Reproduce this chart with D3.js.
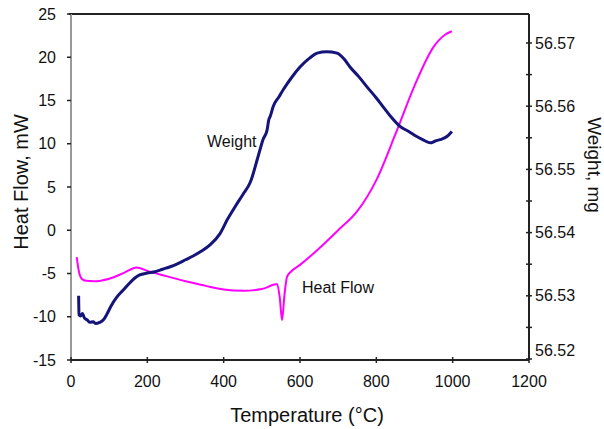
<!DOCTYPE html>
<html>
<head>
<meta charset="utf-8">
<script src="https://cdn.jsdelivr.net/npm/d3@7"></script>
<style>
  body { margin: 0; background: #fff; }
  text { font-family: "Liberation Sans", Arial, sans-serif; fill: #111; }
</style>
</head>
<body>
<div class="main-container"></div>
<script>
// temperature ticks and axis labels
var tempTicks = [0, 200, 400, 600, 800, 1000, 1200];
var heatTicks = [-15, -10, -5, 0, 5, 10, 15, 20, 25];
var weightTicks = [56.52, 56.53, 56.54, 56.55, 56.56, 56.57];
var weightMinor = [56.525, 56.535, 56.545, 56.555, 56.565];

// heat flow (mW)
var heatT = [15, 20, 28, 40, 60, 100, 140, 172, 200, 250, 300, 350, 400, 450, 500, 530, 540, 547, 553, 559, 566, 576, 600, 650, 700, 750, 800, 850, 900, 950, 980, 998];
var heatV = [-3.1, -4.6, -5.6, -5.85, -5.9, -5.6, -4.9, -4.3, -4.7, -5.3, -5.9, -6.4, -6.85, -7.0, -6.8, -6.3, -6.2, -7.8, -10.4, -7.6, -5.4, -4.8, -4.0, -2.1, 0.0, 2.2, 5.8, 11.1, 16.7, 21.2, 22.6, 23.0];

// weight (mg)
var weightT = [20, 21, 25, 30, 35, 42, 50, 58, 65, 75, 85, 95, 105, 120, 135, 150, 165, 180, 200, 220, 240, 260, 280, 300, 320, 340, 365, 390, 410, 430, 450, 470, 490, 503, 514, 518, 522, 530, 545, 556, 580, 600, 625, 645, 670, 697, 715, 731, 755, 775, 800, 818, 840, 862, 885, 906, 925, 941, 955, 967, 985, 998];
var weightV = [56.5300, 56.5270, 56.5268, 56.5272, 56.5265, 56.5262, 56.5258, 56.5259, 56.5256, 56.5258, 56.5262, 56.5272, 56.5284, 56.5298, 56.5308, 56.5318, 56.5327, 56.5333, 56.5336, 56.5338, 56.5342, 56.5346, 56.5351, 56.5357, 56.5363, 56.5370, 56.5381, 56.5398, 56.5421, 56.5441, 56.5460, 56.5480, 56.5520, 56.5547, 56.5563, 56.5578, 56.5584, 56.5600, 56.5615, 56.5626, 56.5647, 56.5662, 56.5676, 56.5684, 56.5686, 56.5684, 56.5675, 56.5662, 56.5646, 56.5631, 56.5613, 56.5599, 56.5582, 56.5568, 56.5560, 56.5552, 56.5546, 56.5542, 56.5545, 56.5547, 56.5552, 56.5560];

var plotLeft = 71, plotRight = 529, plotTop = 14, plotBottom = 360;

var svg = d3.select(".main-container")
    .append("svg")
    .attr("width", 604)
    .attr("height", 429);

var x = d3.scaleLinear().domain([0, 1200]).range([plotLeft, plotRight]);
var yHeat = d3.scaleLinear().domain([-15, 25]).range([plotBottom, plotTop]);
var yWeight = d3.scaleLinear().domain([56.52, 56.57]).range([359, 43]);

// frame: top line and left axis line
svg.append("line").attr("x1", plotLeft - 2).attr("x2", plotRight).attr("y1", plotTop).attr("y2", plotTop)
    .attr("stroke", "#222").attr("stroke-width", 2);
svg.append("line").attr("x1", plotLeft).attr("x2", plotLeft).attr("y1", plotTop).attr("y2", plotBottom)
    .attr("stroke", "#999").attr("stroke-width", 2);

// left axis ticks + labels
svg.selectAll(".lt").data(heatTicks).enter().append("line")
    .attr("x1", plotLeft - 4).attr("x2", plotLeft)
    .attr("y1", function (d) { return yHeat(d); }).attr("y2", function (d) { return yHeat(d); })
    .attr("stroke", "#222").attr("stroke-width", 1.5);
svg.selectAll(".ll").data(heatTicks).enter().append("text")
    .attr("x", 56).attr("y", function (d) { return yHeat(d); })
    .attr("dy", "0.35em").attr("text-anchor", "end")
    .style("font-size", "16px")
    .text(function (d) { return d; });

// bottom axis
svg.append("line").attr("x1", plotLeft).attr("x2", plotRight).attr("y1", plotBottom).attr("y2", plotBottom)
    .attr("stroke", "#222").attr("stroke-width", 2);
svg.selectAll(".bt").data(tempTicks).enter().append("line")
    .attr("x1", function (d) { return x(d); }).attr("x2", function (d) { return x(d); })
    .attr("y1", plotBottom - 3).attr("y2", plotBottom + 3)
    .attr("stroke", "#222").attr("stroke-width", 1.5);
svg.selectAll(".bl").data(tempTicks).enter().append("text")
    .attr("x", function (d) { return x(d); }).attr("y", 387)
    .attr("text-anchor", "middle")
    .style("font-size", "16px")
    .text(function (d) { return d; });

// right axis
svg.append("line").attr("x1", plotRight).attr("x2", plotRight).attr("y1", plotTop).attr("y2", plotBottom)
    .attr("stroke", "#222").attr("stroke-width", 2);
svg.selectAll(".rt").data(weightTicks.concat(weightMinor)).enter().append("line")
    .attr("x1", plotRight - 3).attr("x2", plotRight + 3)
    .attr("y1", function (d) { return yWeight(d); }).attr("y2", function (d) { return yWeight(d); })
    .attr("stroke", "#222").attr("stroke-width", 1.5);
svg.selectAll(".rl").data(weightTicks).enter().append("text")
    .attr("x", 535).attr("y", function (d, i) { return i === 0 ? yWeight(d) - 9 : yWeight(d); })
    .attr("dy", "0.35em")
    .style("font-size", "16px")
    .text(function (d) { return d.toFixed(2); });

// curves
var heatLine = d3.line()
    .x(function (d, i) { return x(heatT[i]); })
    .y(function (d) { return yHeat(d); })
    .curve(d3.curveMonotoneX);
svg.append("path").datum(heatV)
    .attr("d", heatLine)
    .attr("fill", "none").attr("stroke", "#ff00ff").attr("stroke-width", 2);

var weightLine = d3.line()
    .x(function (d, i) { return x(weightT[i]); })
    .y(function (d) { return yWeight(d); })
    .curve(d3.curveMonotoneX);
svg.append("path").datum(weightV)
    .attr("d", weightLine)
    .attr("fill", "none").attr("stroke", "#14147a").attr("stroke-width", 3)
    .attr("stroke-linejoin", "round");

// annotations
svg.append("text").attr("x", 207).attr("y", 147).style("font-size", "16px").text("Weight");
svg.append("text").attr("x", 302).attr("y", 293).style("font-size", "16px").text("Heat Flow");

// axis titles
svg.append("text").attr("x", 307).attr("y", 422).attr("text-anchor", "middle")
    .style("font-size", "20px").text("Temperature (\u00B0C)");
svg.append("text").attr("transform", "translate(28,182) rotate(-90)")
    .attr("text-anchor", "middle").style("font-size", "20px").text("Heat Flow, mW");
svg.append("text").attr("transform", "translate(588,165) rotate(90)")
    .attr("text-anchor", "middle").style("font-size", "19px").text("Weight, mg");
</script>
</body>
</html>
